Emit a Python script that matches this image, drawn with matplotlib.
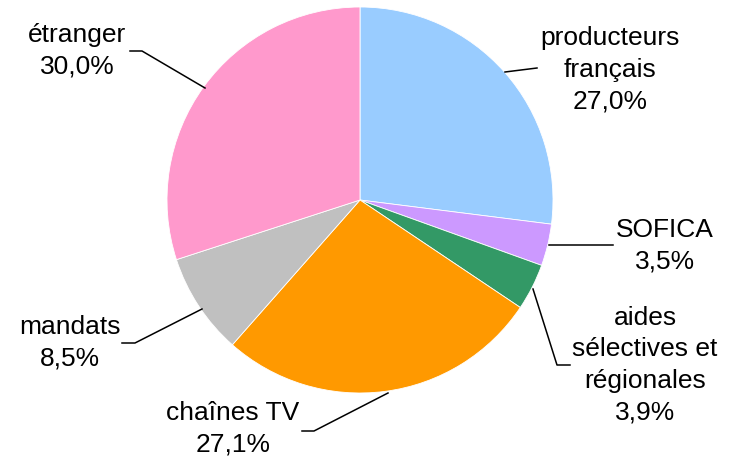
import matplotlib.pyplot as plt

plt.rcParams['font.family'] = ['Liberation Sans', 'DejaVu Sans']

labels = ['producteurs\nfrançais', 'SOFICA', 'aides\nsélectives et\nrégionales',
          'chaînes TV', 'mandats', 'étranger']
values = [27.0, 3.5, 3.9, 27.1, 8.5, 30.0]
colors = ['#99CCFF', '#CC99FF', '#339966', '#FF9900', '#C0C0C0', '#FF99CC']

# label centres (pixels, from top-left) and leader lines
label_pos = [(610, 70), (665, 246), (645, 365), (233, 429), (70, 343), (77, 51)]
leaders = [
    [(505, 72), (537, 68)],
    [(549, 245), (613, 245)],
    [(533, 289), (557, 365), (570, 365)],
    [(388, 393), (314, 431), (302, 431)],
    [(202, 309), (135, 343), (122, 343)],
    [(205, 88), (142, 51), (130, 51)],
]

W, H = 729, 459
fig = plt.figure(figsize=(W / 100, H / 100), dpi=100)
ax = fig.add_axes([0, 0, 1, 1])

ax.pie(values, colors=colors, startangle=90, counterclock=False,
       center=(360, H - 200), radius=193,
       wedgeprops=dict(edgecolor='white', linewidth=0.6))

ax.set_xlim(0, W)
ax.set_ylim(0, H)
ax.set_aspect('equal')
ax.axis('off')

for lab, v, (x, y) in zip(labels, values, label_pos):
    txt = lab + '\n' + f'{v:.1f}'.replace('.', ',') + '%'
    ax.text(x, H - y, txt, ha='center', va='center', fontsize=19,
            linespacing=1.4, color='black')

for pts in leaders:
    xs = [p[0] for p in pts]
    ys = [H - p[1] for p in pts]
    ax.plot(xs, ys, color='black', lw=1.1)

fig.savefig('out.png', dpi=100)
